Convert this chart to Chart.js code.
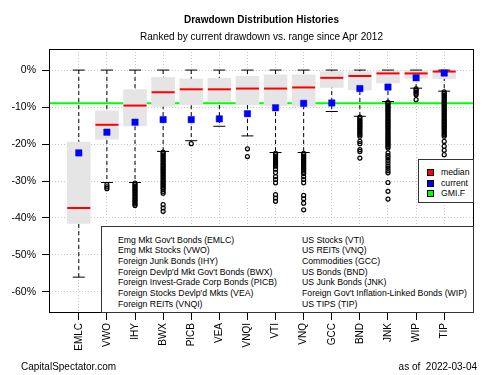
<!DOCTYPE html>
<html>
<head>
<meta charset="utf-8">
<script src="https://cdn.jsdelivr.net/npm/chart.js@4.4.1/dist/chart.umd.min.js"></script>
<style>
body { margin: 0; background: #fff; font-family: "Liberation Sans", Arial, sans-serif; }
#wrap { position: relative; width: 500px; height: 375px; }
.t { position: absolute; white-space: pre; color: #000; line-height: 1; }
.box { position: absolute; background: #fff; border: 1px solid #333; box-sizing: border-box; }
.sw { position: absolute; width: 7px; height: 7px; border: 1px solid #000; box-sizing: border-box; }
</style>
</head>
<body>
<div id="wrap">
  <canvas id="chart" width="500" height="375"></canvas>
  <div class="t" style="left:49px;width:425px;text-align:center;top:15px;font-size:10px;font-weight:bold;">Drawdown Distribution Histories</div>
  <div class="t" style="left:49px;width:425px;text-align:center;top:32px;font-size:10px;">Ranked by current drawdown vs. range since Apr 2012</div>

  <div class="box" style="left:418px;top:159px;width:56px;height:44px;">
    <div class="sw" style="left:8px;top:9px;background:#ff0000;"></div>
    <div class="t" style="left:22px;top:8px;font-size:8.7px;">median</div>
    <div class="sw" style="left:8px;top:20px;background:#0000ff;"></div>
    <div class="t" style="left:22px;top:19px;font-size:8.7px;">current</div>
    <div class="sw" style="left:8px;top:30px;background:#00ff00;"></div>
    <div class="t" style="left:22px;top:29px;font-size:8.7px;">GMI.F</div>
  </div>

  <div class="box" id="notes" style="left:101px;top:226px;width:373px;height:87px;"></div>

  <div class="t" style="left:21px;top:362px;font-size:10px;">CapitalSpectator.com</div>
  <div class="t" style="right:23px;top:362px;font-size:10px;">as of  2022-03-04</div>
</div>
<script>
var categories = ["EMLC", "VWO", "IHY", "BWX", "PICB", "VEA", "VNQI", "VTI", "VNQ", "GCC", "BND", "JNK", "WIP", "TIP"];
var whiskerHigh = [0, 0, 0, 0, 0, 0, 0, 0, 0, 0, 0, 0, 0, 0];
var boxHigh = [-19.5, -11.0, -5.3, -2.0, -2.4, -2.2, -1.7, -1.3, -1.3, -0.4, -0.4, -0.2, -0.1, -0.1];
var medians = [-37.3, -14.8, -9.6, -6.0, -5.2, -5.2, -5.0, -5.0, -4.7, -2.1, -1.6, -0.9, -0.9, -0.4];
var boxLow = [-41.5, -18.7, -15.1, -9.8, -9.4, -8.5, -9.2, -9.6, -9.8, -4.7, -5.4, -3.5, -2.2, -2.3];
var whiskerLow = [-56.0, -30.4, -30.4, -22.0, -19.1, -15.2, -17.8, -22.3, -22.3, -11.2, -12.5, -8.5, -4.9, -5.7];
var current = [-22.4, -16.8, -14.1, -13.4, -13.4, -13.2, -11.8, -10.2, -9.0, -8.9, -5.0, -4.6, -2.1, -0.8];
var gmiF = -9.0;
var outliers = [
  [],
  [-31.0, -31.6, -32.1],
  [-30.6, -31.0, -31.4, -31.8, -32.2, -32.6, -33.0, -33.4, -33.8, -34.2, -34.6, -35.0, -35.4, -35.8, -36.2, -36.6],
  [-22.2, -22.6, -23.0, -23.4, -23.8, -24.2, -24.6, -25.0, -25.4, -25.8, -26.2, -26.6, -27.0, -27.4, -27.8, -28.2,
   -28.6, -29.0, -29.4, -29.8, -30.2, -30.6, -31.0, -31.4, -31.8, -32.2, -32.8, -33.3, -36.4, -37.3, -38.2],
  [-19.9],
  [],
  [-21.3, -23.4],
  [-22.5, -22.9, -23.3, -23.7, -24.1, -24.5, -24.9, -25.3, -25.7, -26.0, -26.8, -27.7, -28.8, -29.6, -30.5, -33.7, -34.6, -35.5],
  [-22.5, -22.9, -23.3, -23.7, -24.1, -24.5, -24.9, -25.3, -25.7, -26.1, -26.5, -26.9, -27.3, -27.7, -28.0,
   -28.8, -29.6, -30.5, -33.9, -34.8, -36.0, -37.8],
  [],
  [-12.7, -13.1, -13.5, -13.9, -14.3, -14.7, -15.1, -15.5, -15.9, -16.3, -16.7, -17.1, -17.5, -17.9, -19.3, -19.9, -21.5, -22.0, -23.8],
  [-8.7, -9.1, -9.5, -9.9, -10.3, -10.7, -11.1, -11.5, -11.9, -12.3, -12.7, -13.1, -13.5, -13.9, -14.3, -14.7, -15.1,
   -15.5, -15.9, -16.3, -16.7, -17.1, -17.5, -17.9, -18.3, -18.7, -19.1, -19.5, -19.9, -20.3, -20.7, -21.1,
   -22.4, -23.1, -23.7, -24.4, -25.1, -25.9, -26.5, -27.2, -27.8, -30.4, -32.8, -34.9],
  [-5.1, -5.5, -5.9, -6.3, -6.7, -8.0],
  [-5.9, -6.3, -6.7, -7.1, -7.5, -7.9, -8.3, -8.7, -9.1, -9.5, -9.9, -10.3, -10.7, -11.1, -11.5, -11.9, -12.3,
   -12.7, -13.1, -13.5, -13.9, -14.3, -14.7, -15.1, -15.5, -15.9, -16.3, -16.7, -17.1, -17.5, -17.9,
   -19.3, -20.6, -21.7, -22.9]
];
var yTicks = [0, -10, -20, -30, -40, -50, -60];
var notesLeft = ["Emg Mkt Gov't Bonds (EMLC)", "Emg Mkt Stocks (VWO)", "Foreign Junk Bonds (IHY)",
  "Foreign Devlp'd Mkt Gov't Bonds (BWX)", "Foreign Invest-Grade Corp Bonds (PICB)",
  "Foreign Stocks Devlp'd Mkts (VEA)", "Foreign REITs (VNQI)"];
var notesRight = ["US Stocks (VTI)", "US REITs (VNQ)", "Commodities (GCC)", "US Bonds (BND)",
  "US Junk Bonds (JNK)", "Foreign Gov't Inflation-Linked Bonds (WIP)", "US TIPS (TIP)"];

// notes box text
var notes = document.getElementById("notes");
function addNotes(list, left) {
  list.forEach(function (s, k) {
    var d = document.createElement("div");
    d.className = "t";
    d.style.left = left + "px";
    d.style.top = (8.5 + k * 10.7) + "px";
    d.style.fontSize = "8.7px";
    d.textContent = s;
    notes.appendChild(d);
  });
}
addNotes(notesLeft, 16);
addNotes(notesRight, 200);

var xMin = -0.06, xMax = categories.length + 1.06;

var whiskerPts = [], capPts = [], boxPts = [], medPts = [], curPts = [], outPts = [];
categories.forEach(function (c, i) {
  var x = i + 1;
  whiskerPts.push({ x: x, y: whiskerHigh[i] }, { x: x, y: whiskerLow[i] }, { x: x, y: null });
  capPts.push({ x: x, y: whiskerHigh[i] }, { x: x, y: whiskerLow[i] });
  boxPts.push({ x: x, y: [boxLow[i], boxHigh[i]] });
  medPts.push({ x: x, y: medians[i] });
  curPts.push({ x: x, y: current[i] });
  outliers[i].forEach(function (v) { outPts.push({ x: x, y: v }); });
});

var frame = {
  id: "frame",
  afterDatasetsDraw: function (chart) {
    var a = chart.chartArea, ctx = chart.ctx;
    ctx.save();
    ctx.strokeStyle = "#000";
    ctx.lineWidth = 1;
    ctx.strokeRect(Math.round(a.left) + 0.5, Math.round(a.top) + 0.5,
      Math.round(a.right - a.left) - 1, Math.round(a.bottom - a.top) - 1);
    ctx.restore();
  }
};

var ctx = document.getElementById("chart").getContext("2d");
var chart = new Chart(ctx, {
  type: "scatter",
  data: {
    datasets: [
      { type: "scatter", label: "current", data: curPts, order: 0, pointStyle: "rect",
        pointRadius: 4.5, backgroundColor: "#0000ff", borderColor: "#0000ff", borderWidth: 0.5 },
      { type: "scatter", label: "outliers", data: outPts, order: 1, pointStyle: "circle",
        pointRadius: 2, backgroundColor: "rgba(0,0,0,0)", borderColor: "#000", borderWidth: 1.2 },
      { type: "scatter", label: "caps", data: capPts, order: 2, pointStyle: "line",
        pointRadius: 6, borderColor: "#000", borderWidth: 1 },
      { type: "scatter", label: "median", data: medPts, order: 3, pointStyle: "line",
        pointRadius: 11.5, borderColor: "#ff0000", borderWidth: 2 },
      { type: "bar", label: "box", data: boxPts, order: 4, backgroundColor: "#e5e5e5",
        borderWidth: 0, barThickness: 23 },
      { type: "line", label: "whiskers", data: whiskerPts, order: 5, borderColor: "#000",
        borderWidth: 1, borderDash: [4, 3], pointRadius: 0, spanGaps: false, fill: false },
      { type: "line", label: "GMI.F", data: [{ x: xMin, y: gmiF }, { x: xMax, y: gmiF }], order: 6,
        borderColor: "#00ff00", borderWidth: 2, pointRadius: 0, fill: false }
    ]
  },
  options: {
    responsive: false,
    devicePixelRatio: 1,
    animation: false,
    events: [],
    layout: { padding: { top: 49, right: 26, left: 0, bottom: 0 } },
    plugins: { legend: { display: false }, tooltip: { enabled: false } },
    scales: {
      x: {
        type: "linear", min: xMin, max: xMax, offset: false,
        afterBuildTicks: function (s) { s.ticks = categories.map(function (c, i) { return { value: i + 1 }; }); },
        afterFit: function (s) { s.height = 62; },
        ticks: {
          autoSkip: false, maxRotation: 90, minRotation: 90, padding: 3, color: "#000",
          font: { family: "Liberation Sans, Arial, sans-serif", size: 10 },
          callback: function (v) { return categories[v - 1]; }
        },
        grid: { color: "#c8c8c8", tickColor: "#000", tickLength: 7, tickBorderDash: [], offset: false },
        border: { display: false, dash: [1, 2] }
      },
      y: {
        min: -65.7, max: 5.7,
        afterBuildTicks: function (s) { s.ticks = yTicks.map(function (v) { return { value: v }; }); },
        afterFit: function (s) { s.width = 49; },
        ticks: {
          padding: 6, color: "#000",
          font: { family: "Liberation Sans, Arial, sans-serif", size: 10.5 },
          callback: function (v) { return v + "%"; }
        },
        grid: { color: "#c8c8c8", tickColor: "#000", tickLength: 7, tickBorderDash: [] },
        border: { display: false, dash: [1, 2] }
      }
    }
  },
  plugins: [frame]
});
</script>
</body>
</html>
